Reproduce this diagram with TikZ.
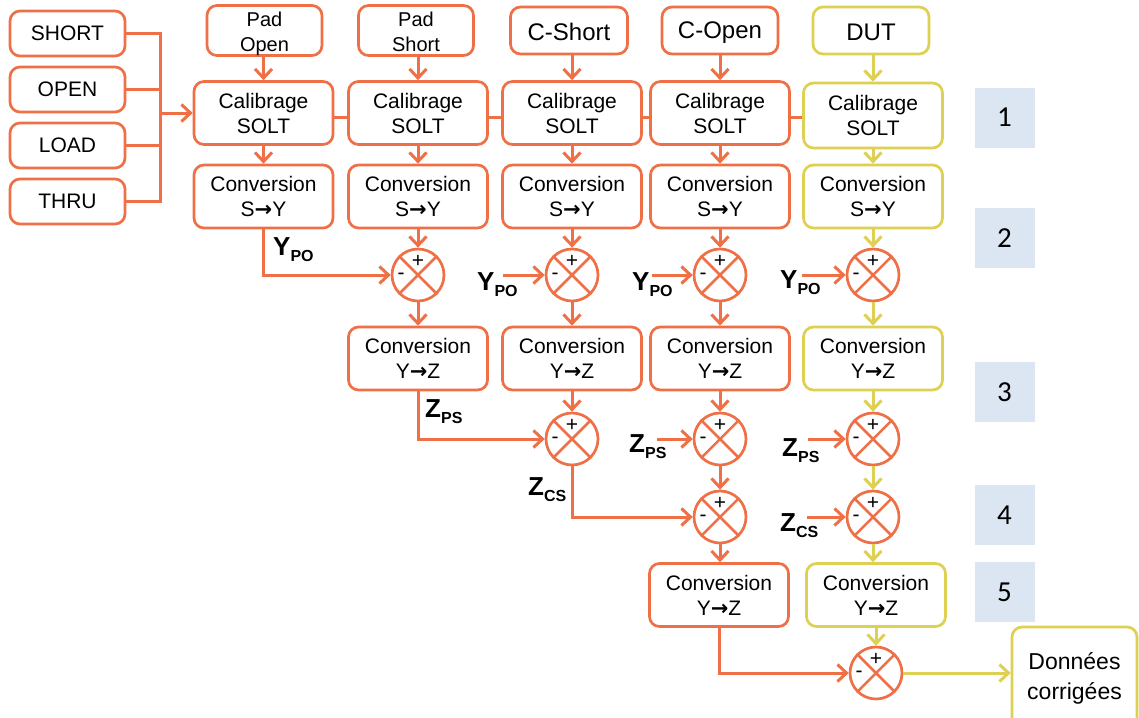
\documentclass[tikz,border=0pt]{standalone}
\usepackage{fontspec}
\setmainfont{Liberation Sans}
\newfontfamily\calfont{Carlito}
\newfontfamily\arrfont{DejaVu Sans}
\usetikzlibrary{arrows.meta}
\definecolor{org}{RGB}{239,112,70}
\definecolor{ylw}{RGB}{222,208,82}
\definecolor{nbl}{RGB}{220,230,242}
\newcommand\lbl[2]{\fontsize{26}{26}\selectfont #1\raisebox{-6pt}{\fontsize{16}{16}\selectfont #2}}
\newcommand\arr{{\arrfont\bfseries →}}
\newcommand\dnstack[2]{\raisebox{-#1}[\height][\depth]{\begin{tabular}{@{}c@{}}#2\end{tabular}}}
\newcommand\sumat[2]{%
  \node[sum] (#1) at (#2) {};
  \draw[org,line width=2.5pt] (#1.45) -- (#1.225) (#1.135) -- (#1.-45);
  \node[sign] at ([yshift=14pt]#1.center) {+};
  \node[sign] at ([xshift=-17pt,yshift=-1pt]#1.center) {-};}
\begin{document}
\begin{tikzpicture}[x=1pt,y=-1pt,
  box/.style={draw=org,line width=2.7pt,rounded corners=10pt,inner sep=0pt,align=center,
    minimum width=139pt,minimum height=63pt,font=\fontsize{21}{25}\selectfont},
  ybox/.style={box,draw=ylw},
  inbox/.style={box,minimum width=115pt,minimum height=45pt},
  topbox/.style={box,minimum height=47pt,font=\fontsize{24}{26}\selectfont},
  padbox/.style={box,minimum height=47pt,font=\fontsize{20}{25}\selectfont},
  sum/.style={circle,draw=org,line width=2.7pt,minimum size=52pt,inner sep=0pt,fill=white},
  sign/.style={inner sep=0pt,font=\fontsize{21}{21}\selectfont},
  con/.style={draw=org,line width=3pt,-{Straight Barb[length=9pt,width=17pt]}},
  ycon/.style={con,draw=ylw},
  lin/.style={draw=org,line width=3pt},
  num/.style={fill=nbl,minimum width=60pt,minimum height=60pt,inner sep=0pt,
    font=\calfont\fontsize{29}{29}\selectfont},
  lab/.style={anchor=base west,inner sep=0pt,font=\bfseries}
]
\useasboundingbox (0,0) rectangle (1139,717);
\fill[white] (0,0) rectangle (1139,717);
\clip (0,0) rectangle (1139,717);

% input standards
\node[inbox] (short) at (67.5,33.5) {SHORT};
\node[inbox] (open) at (67.5,89.5) {OPEN};
\node[inbox] (load) at (67.5,145.5) {LOAD};
\node[inbox] (thru) at (67.5,201.5) {THRU};

% top boxes
\node[padbox,minimum width=115pt] (padopen) at (264.5,30.5) {\dnstack{4pt}{Pad\\Open}};
\node[padbox,minimum width=115pt] (padshort) at (416,30.5) {\dnstack{4pt}{Pad\\Short}};
\node[topbox,minimum width=117pt] (cshort) at (569,30.5) {\rule{0pt}{20pt}C-Short};
\node[topbox,minimum width=116pt] (copen) at (720,30.5) {\rule{0pt}{20pt}C-Open};
\node[topbox,minimum width=116pt,draw=ylw] (dut) at (871,30.5) {\rule{0pt}{20pt}DUT};

% calibration
\node[box] (cal1) at (263.5,113) {Calibrage\\SOLT};
\node[box] (cal2) at (418,113) {Calibrage\\SOLT};
\node[box] (cal3) at (572,113) {Calibrage\\SOLT};
\node[box] (cal4) at (720,113) {Calibrage\\SOLT};
\node[ybox,minimum height=65pt] (cal5) at (873,115.5) {Calibrage\\SOLT};

% conversions S->Y
\node[box] (sy1) at (263.5,196.5) {Conversion\\S\arr Y};
\node[box] (sy2) at (418,196.5) {Conversion\\S\arr Y};
\node[box] (sy3) at (572,196.5) {Conversion\\S\arr Y};
\node[box] (sy4) at (720,196.5) {Conversion\\S\arr Y};
\node[ybox] (sy5) at (873,196.5) {Conversion\\S\arr Y};

% conversions Y->Z
\node[box] (yz2) at (418,358.5) {Conversion\\Y\arr Z};
\node[box] (yz3) at (572,358.5) {Conversion\\Y\arr Z};
\node[box] (yz4) at (720,358.5) {Conversion\\Y\arr Z};
\node[ybox] (yz5) at (873,358.5) {Conversion\\Y\arr Z};
\node[box] (zz4) at (719,595) {Conversion\\Y\arr Z};
\node[ybox] (zz5) at (876,595) {Conversion\\Y\arr Z};

% output
\node[ybox,minimum width=125pt,minimum height=103pt,font=\fontsize{23}{30}\selectfont] (out) at (1074.5,678.5) {Données\\corrigées};

% step numbers
\node[num] (n1) at (1004.5,117.5) {1};
\node[num] (n2) at (1004.5,238) {2};
\node[num] (n3) at (1004.5,392) {3};
\node[num] (n4) at (1004.5,515) {4};
\node[num] (n5) at (1004.5,592) {5};

% summing junctions
\sumat{s2}{418,275}
\sumat{s3}{572,275}
\sumat{s4}{720,275}
\sumat{s5}{873,275}
\sumat{t3}{572,439}
\sumat{t4}{720,439}
\sumat{t5}{873,439}
\sumat{u4}{720,517}
\sumat{u5}{873,517}
\sumat{f}{876,673}

% left bus
\coordinate (bt) at (160,33.5);
\coordinate (bb) at (160,201.5);
\draw[lin] (short.east) -- (bt) -- (bb) -- (thru.east);
\draw[lin] (open.east) -- (open.east -| bt);
\draw[lin] (load.east) -- (load.east -| bt);
\draw[con] (bt |- cal1.west) -- (cal1.west);

% calibration chain
\coordinate (hy) at (0,117);
\draw[lin] (cal1.east |- hy) -- (cal2.west |- hy);
\draw[lin] (cal2.east |- hy) -- (cal3.west |- hy);
\draw[lin] (cal3.east |- hy) -- (cal4.west |- hy);
\draw[lin] (cal4.east |- hy) -- (cal5.west |- hy);

% vertical flows, orange columns
\draw[con] (cal1.north |- padopen.south) -- (cal1.north);
\draw[con] (cal2.north |- padshort.south) -- (cal2.north);
\draw[con] (cal3.north |- cshort.south) -- (cal3.north);
\draw[con] (cal4.north |- copen.south) -- (cal4.north);
\draw[con] (cal1.south) -- (sy1.north);
\draw[con] (cal2.south) -- (sy2.north);
\draw[con] (cal3.south) -- (sy3.north);
\draw[con] (cal4.south) -- (sy4.north);
\draw[con] (sy2.south) -- (s2.north);
\draw[con] (sy3.south) -- (s3.north);
\draw[con] (sy4.south) -- (s4.north);
\draw[con] (s2.south) -- (yz2.north);
\draw[con] (s3.south) -- (yz3.north);
\draw[con] (s4.south) -- (yz4.north);
\draw[con] (yz3.south) -- (t3.north);
\draw[con] (yz4.south) -- (t4.north);
\draw[con] (t4.south) -- (u4.north);
\draw[con] (u4.south) -- (u4.south |- zz4.north);

% routed flows
\draw[con] (sy1.south) |- (s2.west);
\draw[con] (yz2.south) |- (t3.west);
\draw[con] (t3.south) |- (u4.west);
\draw[con] (zz4.south) |- (f.west);

% yellow column
\draw[ycon] (cal5.north |- dut.south) -- (cal5.north);
\draw[ycon] (cal5.south) -- (sy5.north);
\draw[ycon] (sy5.south) -- (s5.north);
\draw[ycon] (s5.south) -- (yz5.north);
\draw[ycon] (yz5.south) -- (t5.north);
\draw[ycon] (t5.south) -- (u5.north);
\draw[ycon] (u5.south) -- (u5.south |- zz5.north);
\draw[ycon] (zz5.south -| f.north) -- (f.north);
\draw[ycon] (f.east) -- (f.east -| out.west);

% correction inputs
\coordinate (y3) at (503,275);
\coordinate (y4) at (652,275);
\coordinate (y5) at (802,275);
\coordinate (z4) at (657,439);
\coordinate (z5) at (808,439);
\coordinate (c5) at (807,517);
\draw[con] (y3) -- (s3.west);
\draw[con] (y4) -- (s4.west);
\draw[con] (y5) -- (s5.west);
\draw[con] (z4) -- (t4.west);
\draw[con] (z5) -- (t5.west);
\draw[con] (c5) -- (u5.west);

% labels
\node[lab] (l1) at (273,255) {\lbl{Y}{PO}};
\node[lab] (l2) at (477,290) {\lbl{Y}{PO}};
\node[lab] (l3) at (632,290) {\lbl{Y}{PO}};
\node[lab] (l4) at (780,288) {\lbl{Y}{PO}};
\node[lab] (l5) at (425,417) {\lbl{Z}{PS}};
\node[lab] (l6) at (528,495) {\lbl{Z}{CS}};
\node[lab] (l7) at (629,452) {\lbl{Z}{PS}};
\node[lab] (l8) at (782,456) {\lbl{Z}{PS}};
\node[lab] (l9) at (780,531) {\lbl{Z}{CS}};
\end{tikzpicture}
\end{document}
